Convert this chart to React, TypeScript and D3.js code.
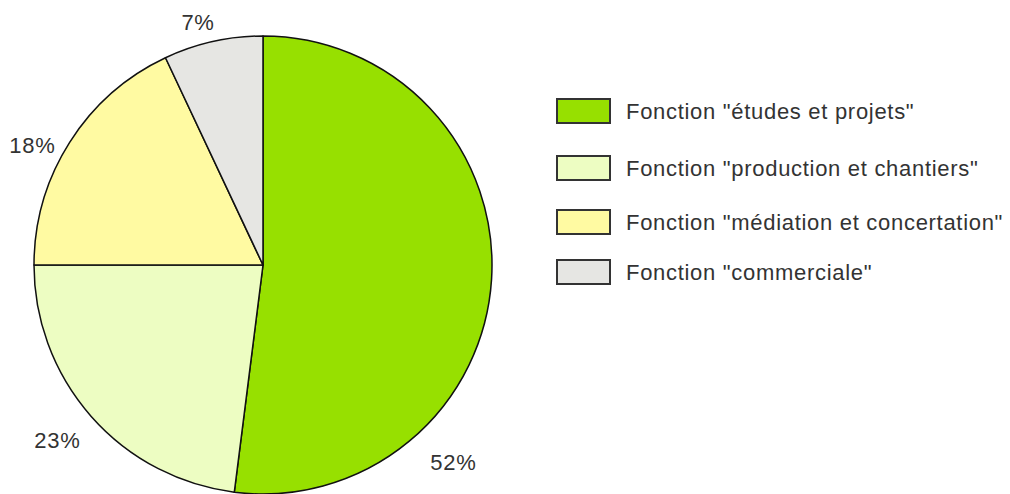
import React, { useEffect, useRef } from 'react';
import { select, pie, arc, scaleOrdinal } from 'd3';

const categories = [
  'Fonction "études et projets"',
  'Fonction "production et chantiers"',
  'Fonction "médiation et concertation"',
  'Fonction "commerciale"',
];
const values = [52, 23, 18, 7];
const colors = ['#97e000', '#edfdc2', '#fffaa2', '#e6e6e3'];

const W = 1010;
const H = 494;
const cx = 263;
const cy = 265;
const R = 229;
const FONT = 'Liberation Sans, Arial, sans-serif';

// where each percentage sits (degrees clockwise from top, distance from centre)
const labelDeg = [136, 229.6, 297.5, 345];
const labelDist = [274, 270, 260, 251];
// legend row tops
const legendY = [99, 156, 210, 260];

const App = () => {
  const svgRef = useRef(null);

  useEffect(() => {
    const svg = select(svgRef.current);
    svg.selectAll('*').remove();

    const color = scaleOrdinal<string, string>().domain(categories).range(colors);

    const slices = pie<number>().sort(null)(values);
    const sliceArc = arc<any>().innerRadius(0).outerRadius(R);

    const g = svg.append('g').attr('transform', `translate(${cx},${cy})`);

    g.selectAll('path')
      .data(slices)
      .join('path')
      .attr('d', sliceArc)
      .attr('fill', (d, i) => color(categories[i]))
      .attr('stroke', '#111')
      .attr('stroke-width', 1.5)
      .attr('stroke-linejoin', 'round');

    const rad = (i: number) => (labelDeg[i] * Math.PI) / 180;

    g.selectAll('text.pct')
      .data(slices)
      .join('text')
      .attr('class', 'pct')
      .attr('x', (d, i) => labelDist[i] * Math.sin(rad(i)))
      .attr('y', (d, i) => -labelDist[i] * Math.cos(rad(i)))
      .attr('dy', '0.35em')
      .attr('text-anchor', 'middle')
      .attr('font-family', FONT)
      .attr('font-size', 22)
      .attr('letter-spacing', 0.7)
      .attr('fill', '#333')
      .text((d) => `${d.data}%`);

    const rows = svg
      .append('g')
      .attr('transform', 'translate(557,0)')
      .selectAll('g')
      .data(categories)
      .join('g')
      .attr('transform', (d, i) => `translate(0,${legendY[i]})`);

    rows
      .append('rect')
      .attr('width', 53)
      .attr('height', 24)
      .attr('fill', (d) => color(d))
      .attr('stroke', '#333')
      .attr('stroke-width', 2);

    rows
      .append('text')
      .attr('x', 69)
      .attr('y', 12)
      .attr('dy', '0.35em')
      .attr('font-family', FONT)
      .attr('font-size', 22)
      .attr('letter-spacing', 0.7)
      .attr('fill', '#333')
      .text((d) => d);
  }, []);

  return (
    <svg
      ref={svgRef}
      width={W}
      height={H}
      style={{ position: 'absolute', left: 0, top: 0, background: '#fff' }}
    />
  );
};

export default App;
